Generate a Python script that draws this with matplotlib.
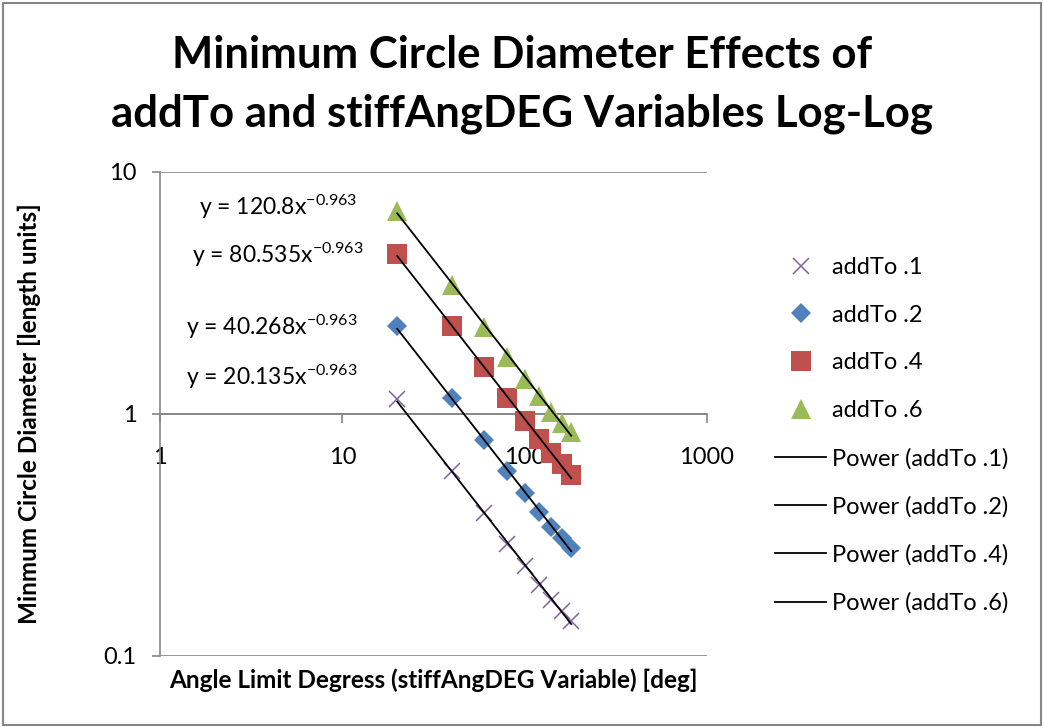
import matplotlib
matplotlib.use('Agg')
import matplotlib.pyplot as plt
import numpy as np
from matplotlib.patches import Rectangle
from matplotlib.ticker import FixedLocator, FuncFormatter, NullLocator

plt.rcParams['font.family'] = ['Lato', 'DejaVu Sans']
plt.rcParams['mathtext.fontset'] = 'custom'
plt.rcParams['mathtext.rm'] = 'Lato'
plt.rcParams['mathtext.it'] = 'Lato'

# stiffAngDEG values and measured minimum circle diameters
angles = [20, 40, 60, 80, 100, 120, 140, 160, 180]
d_01 = [1.15, 0.58, 0.39, 0.29, 0.235, 0.197, 0.17, 0.153, 0.14]
d_02 = [2.3, 1.16, 0.78, 0.58, 0.47, 0.394, 0.34, 0.306, 0.28]
d_04 = [4.6, 2.32, 1.56, 1.16, 0.94, 0.79, 0.69, 0.62, 0.56]
d_06 = [6.9, 3.42, 2.29, 1.72, 1.39, 1.19, 1.02, 0.92, 0.84]

# power trendline coefficients y = a * x^b
fit_a = [20.135, 40.268, 80.535, 120.8]
fit_b = -0.963

names = ['addTo .1', 'addTo .2', 'addTo .4', 'addTo .6']
grey = '#868686'

fig = plt.figure(figsize=(10.44, 7.27), dpi=100)
ax = fig.add_axes([160/1044, 1 - 656/727, 547/1044, 484/727])

ax.set_xscale('log')
ax.set_yscale('log')
ax.set_xlim(1, 1000)
ax.set_ylim(0.1, 10)

series = [d_01, d_02, d_04, d_06]
styles = [
    dict(marker='x', color='#8064A2', markersize=11, markeredgewidth=1.1),
    dict(marker='D', color='#4F81BD', markersize=10, markeredgewidth=0),
    dict(marker='s', color='#C0504D', markersize=14.5, markeredgewidth=0),
    dict(marker='^', color='#9BBB59', markersize=14.5, markeredgewidth=0),
]
pts = []
for vals, st, nm in zip(series, styles, names):
    h, = ax.plot(angles, vals, linestyle='none', label=nm, zorder=3, **st)
    pts.append(h)

xfit = np.array([angles[0], angles[-1]], dtype=float)
lines = []
for a, nm in zip(fit_a, names):
    h, = ax.plot(xfit, a * xfit ** fit_b, color='black', lw=1.3, zorder=4,
                 label='Power (%s)' % nm)
    lines.append(h)

# trendline equations
eq_pos = [(0.360, 0.560), (0.360, 0.663), (0.371, 0.812), (0.360, 0.911)]
for a, (ex, ey) in zip(fit_a, eq_pos):
    ax.text(ex, ey, 'y = %gx$^{%.3f}$' % (a, fit_b), transform=ax.transAxes,
            ha='right', va='baseline', fontsize=16.5)

# axes styling
for s in ['top', 'right']:
    ax.spines[s].set_visible(False)
ax.spines['bottom'].set_position(('data', 1))
ax.spines['bottom'].set_color(grey)
ax.spines['left'].set_color(grey)
ax.spines['bottom'].set_linewidth(1.2)
ax.spines['left'].set_linewidth(1.2)
ax.yaxis.grid(True, color=grey, lw=1.2)
ax.set_axisbelow(True)

fmt = FuncFormatter(lambda v, p: '%g' % v)
ax.xaxis.set_major_locator(FixedLocator([1, 10, 100, 1000]))
ax.yaxis.set_major_locator(FixedLocator([0.1, 1, 10]))
ax.xaxis.set_minor_locator(NullLocator())
ax.yaxis.set_minor_locator(NullLocator())
ax.xaxis.set_major_formatter(fmt)
ax.yaxis.set_major_formatter(fmt)
ax.tick_params(axis='x', length=6.5, width=1.2, color=grey, pad=17, labelsize=17)
ax.tick_params(axis='y', length=6, width=1.2, color=grey, pad=11, labelsize=17)

ax.set_xlabel('Angle Limit Degress (stiffAngDEG Variable) [deg]',
              fontsize=17.5, fontweight='bold')
ax.xaxis.set_label_coords(0.5, -0.025)
ax.set_ylabel('Minmum Circle Diameter [length units]', fontsize=17.5, fontweight='bold')
ax.yaxis.set_label_coords(-0.2175, 0.5)

fig.text(0.5, 1 - 68/727, 'Minimum Circle Diameter Effects of',
         ha='center', va='baseline', fontsize=31.5, fontweight='bold')
fig.text(0.5, 1 - 127/727, 'addTo and stiffAngDEG Variables Log-Log',
         ha='center', va='baseline', fontsize=31.5, fontweight='bold')

fig.legend(pts + lines, [h.get_label() for h in pts + lines],
           loc='upper left', bbox_to_anchor=(775/1044, 1 - 257/727),
           frameon=False, fontsize=17, handlelength=2.16, handletextpad=0.25,
           labelspacing=1.13, borderpad=0, borderaxespad=0)

fig.patches.append(Rectangle((3/1044, 2/727), 1038/1044, 722/727,
                             transform=fig.transFigure, fill=False,
                             edgecolor=grey, lw=1.5))

fig.savefig('out.png', dpi=100)
